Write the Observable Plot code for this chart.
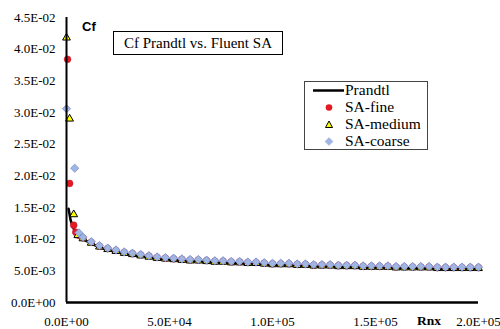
<!DOCTYPE html>
<html>
<head>
<meta charset="utf-8">
<script src="https://cdn.jsdelivr.net/npm/d3@7"></script>
<script src="https://cdn.jsdelivr.net/npm/@observablehq/plot@0.6"></script>
<style>
  html, body { margin: 0; padding: 0; background: #fff; }
  #wrap { position: relative; width: 500px; height: 329px; overflow: hidden; }
  .ov { position: absolute; white-space: nowrap; }
  .serif { font-family: "Liberation Serif", "Times New Roman", serif; }
  #title { left: 113px; top: 31px; width: 168px; height: 22px; border: 1.5px solid #000; font-size: 15px; line-height: 22px; text-align: center; background: #fff; }
  #legend { left: 304px; top: 81px; width: 122px; height: 67px; border: 1px solid #444; background: #fff; }
  .lrow { position: absolute; left: 0; height: 17px; width: 122px; }
  .lrow svg { position: absolute; left: 0; top: 0; }
  .lrow span { position: absolute; left: 40px; top: -1px; font-size: 15.5px; line-height: 17px; }
  #cf { left: 82px; top: 19px; font-family: "Liberation Sans", Arial, sans-serif; font-weight: bold; font-size: 13px; }
  #rnx { left: 417px; top: 313px; font-weight: bold; font-size: 13.5px; }
</style>
</head>
<body>
<div id="wrap"></div>
<script>
// ---- data ----
const gridX = [8000,12000,16000,20000,24000,28000,32000,36000,40000,44000,48000,52000,56000,60000,64000,68000,72000,76000,80000,84000,88000,92000,96000,100000,104000,108000,112000,116000,120000,124000,128000,132000,136000,140000,144000,148000,152000,156000,160000,164000,168000,172000,176000,180000,184000,188000,192000,196000,200000];

const prandtlLeadX = [1000,2000,3000,4000,6000];
const prandtlLeadY = [0.0148,0.0130,0.0120,0.0113,0.0105];
const prandtlY = [0.0100,0.0093,0.0087,0.0083,0.0080,0.0077,0.0075,0.0073,0.0071,0.0069,0.0068,0.0067,0.0066,0.0065,0.0065,0.0064,0.0063,0.0063,0.0062,0.0062,0.0061,0.0061,0.0060,0.0059,0.0059,0.0059,0.0058,0.0058,0.0057,0.0057,0.0057,0.0056,0.0056,0.0056,0.0055,0.0055,0.0055,0.0055,0.0054,0.0054,0.0054,0.0054,0.0054,0.0053,0.0053,0.0053,0.0053,0.0053,0.0053];

const fineLeadX = [500,1500,3500,4500,6000];
const fineLeadY = [0.0384,0.0188,0.0122,0.0111,0.0106];
const fineY = [0.0102,0.0095,0.0089,0.0085,0.0082,0.0079,0.0077,0.0075,0.0073,0.0071,0.0070,0.0069,0.0068,0.0067,0.0067,0.0066,0.0065,0.0065,0.0064,0.0064,0.0063,0.0063,0.0062,0.0061,0.0061,0.0061,0.0060,0.0060,0.0059,0.0059,0.0059,0.0058,0.0058,0.0058,0.0057,0.0057,0.0057,0.0057,0.0056,0.0056,0.0056,0.0056,0.0056,0.0055,0.0055,0.0055,0.0055,0.0055,0.0055];

const mediumLeadX = [0,1500,3500,5500];
const mediumLeadY = [0.0418,0.0290,0.0139,0.0106];
const mediumY = [0.0101,0.0094,0.0088,0.0084,0.0081,0.0078,0.0076,0.0074,0.0072,0.0070,0.0069,0.0068,0.0067,0.0066,0.0066,0.0065,0.0064,0.0064,0.0063,0.0063,0.0062,0.0062,0.0061,0.0060,0.0060,0.0060,0.0059,0.0059,0.0058,0.0058,0.0058,0.0057,0.0057,0.0057,0.0056,0.0056,0.0056,0.0056,0.0055,0.0055,0.0055,0.0055,0.0055,0.0054,0.0054,0.0054,0.0054,0.0054,0.0054];

const coarseLeadX = [0,4000,6000];
const coarseLeadY = [0.0306,0.0212,0.0110];
const coarseY = [0.0103,0.0096,0.0090,0.0086,0.0083,0.0080,0.0078,0.0076,0.0074,0.0072,0.0071,0.0070,0.0069,0.0068,0.0068,0.0067,0.0066,0.0066,0.0065,0.0065,0.0064,0.0064,0.0063,0.0062,0.0062,0.0062,0.0061,0.0061,0.0060,0.0060,0.0060,0.0059,0.0059,0.0059,0.0058,0.0058,0.0058,0.0058,0.0057,0.0057,0.0057,0.0057,0.0057,0.0056,0.0056,0.0056,0.0056,0.0056,0.0056];

const xTicks = [0, 50000, 100000, 150000, 200000];
const yTicks = [0, 0.005, 0.01, 0.015, 0.02, 0.025, 0.03, 0.035, 0.04, 0.045];
const seriesNames = ["Prandtl", "SA-fine", "SA-medium", "SA-coarse"];
const titleText = "Cf Prandtl vs. Fluent SA";
const yLabel = "Cf";
const xLabel = "Rnx";

// ---- build ----
function toRows(xs, ys) { return xs.map((x, i) => ({x, y: ys[i]})); }
const prandtl = toRows(prandtlLeadX, prandtlLeadY).concat(toRows(gridX, prandtlY));
const fine = toRows(fineLeadX, fineLeadY).concat(toRows(gridX, fineY));
const medium = toRows(mediumLeadX, mediumLeadY).concat(toRows(gridX, mediumY));
const coarse = toRows(coarseLeadX, coarseLeadY).concat(toRows(gridX, coarseY));

function sci(v) {
  if (v === 0) return "0.0E+00";
  const e = Math.floor(Math.log10(Math.abs(v)) + 1e-9);
  const m = v / Math.pow(10, e);
  return m.toFixed(1) + "E" + (e < 0 ? "-" : "+") + String(Math.abs(e)).padStart(2, "0");
}

const chart = Plot.plot({
  width: 500,
  height: 329,
  marginLeft: 66,
  marginRight: 22,
  marginTop: 17,
  marginBottom: 27,
  style: {background: "#fff", color: "#000"},
  x: {domain: [0, 200000]},
  y: {domain: [0, 0.045]},
  marks: [
    Plot.axisY({ticks: yTicks, tickFormat: sci, tickSize: 0, tickPadding: 11, label: null, fill: "#000", fontFamily: "Liberation Serif", fontSize: 13}),
    Plot.axisX({ticks: xTicks, tickFormat: sci, tickSize: 0, tickPadding: 14, label: null, fill: "#000", fontFamily: "Liberation Serif", fontSize: 13}),
    Plot.line(prandtl, {x: "x", y: "y", stroke: "#000", strokeWidth: 2.5}),
    Plot.dot(fine, {x: "x", y: "y", r: 3.4, fill: "#e41a23", stroke: "#c0102a", strokeWidth: 0.5, symbol: "circle"}),
    Plot.dot(medium, {x: "x", y: "y", r: 2.9, fill: "#ffff00", stroke: "#000", strokeWidth: 1, symbol: "triangle"}),
    Plot.dot(coarse, {x: "x", y: "y", r: 3.7, fill: "#9fb5e2", stroke: "#7d8fd0", strokeWidth: 0.8, symbol: "diamond2"}),
    Plot.ruleX([0], {stroke: "#000", strokeWidth: 2}),
    Plot.ruleY([0], {stroke: "#000", strokeWidth: 2.5})
  ]
});

const wrap = document.getElementById("wrap");
wrap.appendChild(chart);

function ov(id, cls, text) {
  const d = document.createElement("div");
  d.id = id; d.className = "ov " + cls; d.textContent = text;
  wrap.appendChild(d); return d;
}
ov("cf", "", yLabel);
ov("rnx", "serif", xLabel);
ov("title", "serif", titleText);

const leg = document.createElement("div");
leg.id = "legend"; leg.className = "ov serif";
wrap.appendChild(leg);
const sym = [
  '<svg width="40" height="17"><line x1="8" x2="39" y1="8.5" y2="8.5" stroke="#000" stroke-width="2.5"/></svg>',
  '<svg width="40" height="17"><circle cx="24" cy="8.5" r="3.3" fill="#e41a23"/></svg>',
  '<svg width="40" height="17"><path d="M24,5 L27.5,11.5 L20.5,11.5 Z" fill="#ffff00" stroke="#000" stroke-width="1"/></svg>',
  '<svg width="40" height="17"><path d="M24,4.5 L28,8.5 L24,12.5 L20,8.5 Z" fill="#9fb5e2" stroke="#9fb5e2" stroke-width="0.5"/></svg>'
];
seriesNames.forEach((name, i) => {
  const r = document.createElement("div");
  r.className = "lrow";
  r.style.top = (0 + i * 17) + "px";
  r.innerHTML = sym[i];
  const s = document.createElement("span");
  s.textContent = name;
  r.appendChild(s);
  leg.appendChild(r);
});
</script>
</body>
</html>
